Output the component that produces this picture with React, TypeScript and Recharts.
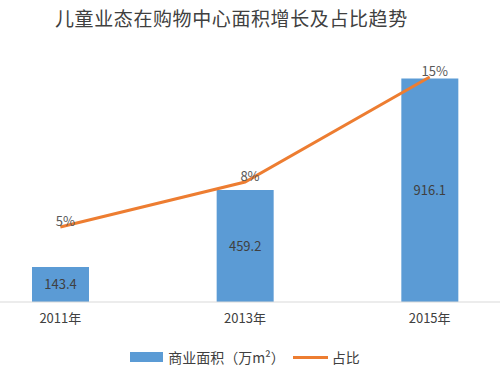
import React from 'react';
import { ComposedChart, Bar, Line, XAxis, YAxis, Legend, LabelList } from 'recharts';

const years = ['2011年', '2013年', '2015年'];
const areaValues = [143.4, 459.2, 916.1];
const shareValues = [5, 8, 15];

const BLUE = '#5b9bd5';
const ORANGE = '#ed7d31';
const FONT = '"Noto Sans CJK SC", "Noto Sans", sans-serif';

const data = years.map((year, i) => ({
  year,
  area: areaValues[i],
  share: shareValues[i],
}));

function LegendContent() {
  return (
    <div style={{ display: 'flex', alignItems: 'center', justifyContent: 'center', fontFamily: FONT, fontSize: 14, color: '#404040', height: 20 }}>
      <span style={{ display: 'inline-block', width: 33, height: 10, background: BLUE, marginRight: 5 }} />
      <span>商业面积（万m²）</span>
      <span style={{ display: 'inline-block', width: 35, height: 3, background: ORANGE, marginLeft: 8, marginRight: 4 }} />
      <span>占比</span>
    </div>
  );
}

export default function App() {
  return (
    <div style={{ position: 'fixed', left: 0, top: 0, width: 500, height: 382, overflow: 'hidden', background: '#fff' }}>
      <div style={{ position: 'absolute', left: 55, top: 6, fontFamily: FONT, fontSize: 19, lineHeight: '24px', letterSpacing: 0.6, color: '#404040', whiteSpace: 'nowrap' }}>
        儿童业态在购物中心面积增长及占比趋势
      </div>
      <div style={{ position: 'absolute', left: -32, top: 0 }}>
        <ComposedChart width={554} height={382} data={data} margin={{ top: 58, right: 0, bottom: 15, left: 0 }} barCategoryGap="34.5%">
          <XAxis
            dataKey="year"
            axisLine={{ stroke: '#d9d9d9' }}
            tickLine={false}
            tickMargin={6}
            height={45}
            tick={{ fill: '#404040', fontSize: 13, fontFamily: FONT }}
          />
          <YAxis yAxisId="left" hide domain={[0, 1000]} />
          <YAxis yAxisId="right" hide orientation="right" domain={[0, 16.27]} />
          <Legend verticalAlign="bottom" content={<LegendContent />} />
          <Bar yAxisId="left" dataKey="area" name="商业面积（万m²）" fill={BLUE} barSize={57} isAnimationActive={false}>
            <LabelList dataKey="area" position="center" fill="#404040" fontSize={13} fontFamily={FONT} />
          </Bar>
          <Line
            yAxisId="right"
            dataKey="share"
            name="占比"
            stroke={ORANGE}
            strokeWidth={3}
            dot={false}
            type="linear"
            isAnimationActive={false}
          >
            <LabelList dataKey="share" position="top" offset={1} dx={5} formatter={(v: number) => `${v}%`} fill="#595959" fontSize={13} fontFamily={FONT} />
          </Line>
        </ComposedChart>
      </div>
    </div>
  );
}
